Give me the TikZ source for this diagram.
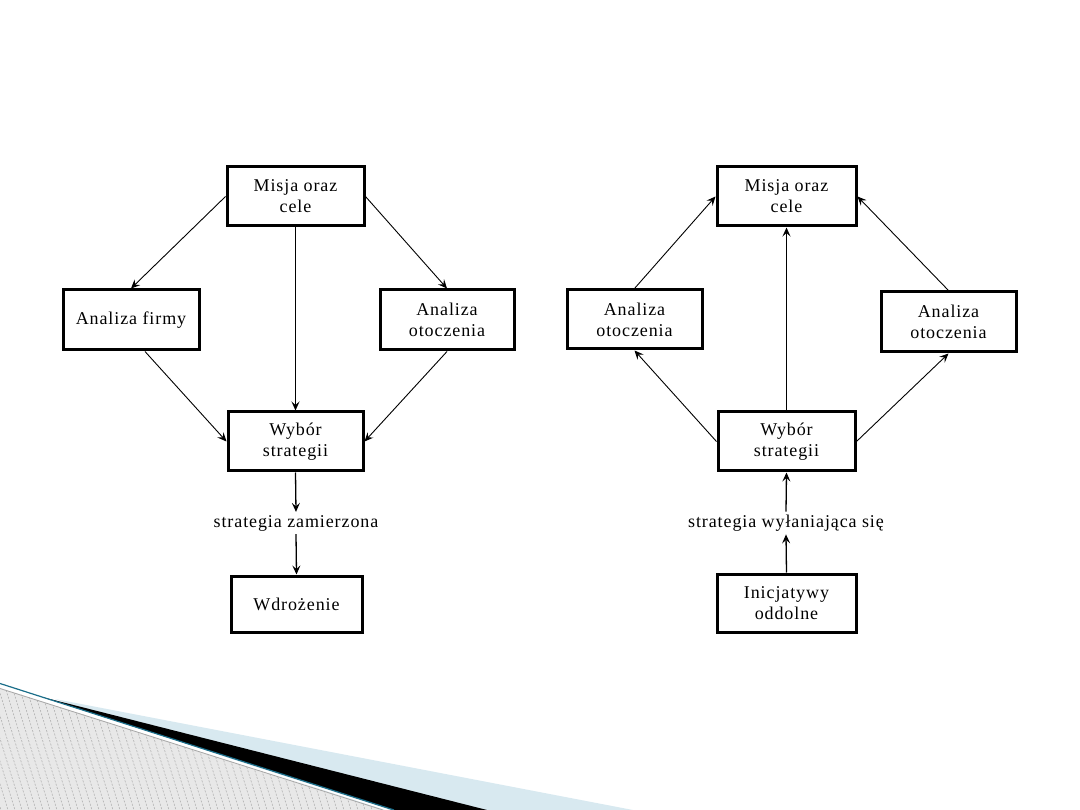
\documentclass[tikz,border=0pt]{standalone}
\usepackage{fontspec}
\setmainfont{Liberation Serif}
\newfontfamily\diagfont[LetterSpace=5]{Liberation Serif}
\usetikzlibrary{arrows.meta}
\definecolor{swblue}{HTML}{D8E9F0}
\definecolor{swteal}{HTML}{1B6E8A}
\definecolor{hatchbg}{HTML}{E8E8E8}
\definecolor{hatchln}{HTML}{A8A8A8}
\begin{document}
\begin{tikzpicture}[x=1pt,y=-1pt,
  box/.style={draw, line width=3pt, inner sep=0pt, align=center,
    font=\diagfont\fontsize{18}{21}\selectfont},
  lbl/.style={inner sep=3pt, font=\diagfont\fontsize{18}{21}\selectfont},
  conn/.style={line width=0.9pt, -{Stealth[length=9pt,width=8pt,inset=3.5pt]}},
  vconn/.style={line width=1.3pt, -{Stealth[length=9pt,width=8pt,inset=3.5pt]}},
  ]
\useasboundingbox (0,0) rectangle (1080,810);

% decorative swoosh
\fill[swblue] (55,699) -- (633,810) -- (380,810) -- cycle;
\fill[black] (42,697) -- (487,810) -- (393,810) -- cycle;
\begin{scope}
  \clip (0,688) -- (383,810) -- (0,810) -- cycle;
  \fill[hatchbg] (0,680) rectangle (400,810);
  \foreach \i in {-46,-39,...,400}
    \draw[hatchln, line width=0.5pt, dash pattern=on 2pt off 1.5pt] (\i,680) -- ++(40,130);
\end{scope}
\draw[white, line width=1.5pt] (0,686) -- (388,810);
\draw[hatchln, line width=0.8pt] (0,688.5) -- (383,810);
\draw[swteal, line width=1.2pt] (0,683.5) -- (394,810);

% left diagram
\node[box, minimum width=137pt, minimum height=59pt] (m1) at (295.5,196.5) {Misja oraz\\cele};
\node[box, minimum width=136pt, minimum height=60pt] (af) at (131,320) {Analiza firmy};
\node[box, minimum width=134pt, minimum height=60pt] (ao1) at (447,320) {Analiza\\otoczenia};
\node[box, minimum width=135pt, minimum height=59pt] (w1) at (295.5,441.5) {Wybór\\strategii};
\node[lbl] (l1) at (296,523) {strategia zamierzona};
\node[box, minimum width=131pt, minimum height=56pt] (wd) at (296.5,604) {Wdrożenie};

\draw[conn] (m1.west) -- (af.north);
\draw[conn] (m1.east) -- (ao1.north);
\draw[vconn] (m1.south) -- (w1.north);
\draw[conn] ([xshift=14pt]af.south) -- (w1.west);
\draw[conn] (ao1.south) -- (w1.east);
\draw[vconn] (w1.south) -- (l1.north);
\draw[vconn] (l1.south) -- (wd.north);

% right diagram
\node[box, minimum width=139pt, minimum height=59pt] (m2) at (786.5,196.5) {Misja oraz\\cele};
\node[box, minimum width=135pt, minimum height=59pt] (ao2) at (634.5,319.5) {Analiza\\otoczenia};
\node[box, minimum width=135pt, minimum height=60pt] (ao3) at (948.5,322) {Analiza\\otoczenia};
\node[box, minimum width=137pt, minimum height=59pt] (w2) at (786.5,441.5) {Wybór\\strategii};
\node[lbl] (l2) at (786,523) {strategia wyłaniająca się};
\node[box, minimum width=139pt, minimum height=58pt] (ic) at (786.5,603) {Inicjatywy\\oddolne};

\draw[conn] (w2.west) -- (ao2.south);
\draw[conn] (ao2.north) -- (m2.west);
\draw[vconn] (w2.north) -- (m2.south);
\draw[conn] (w2.east) -- (ao3.south);
\draw[conn] (ao3.north) -- (m2.east);
\draw[vconn] (ic.north) -- (l2.south);
\draw[vconn] (l2.north) -- (w2.south);
\end{tikzpicture}
\end{document}
